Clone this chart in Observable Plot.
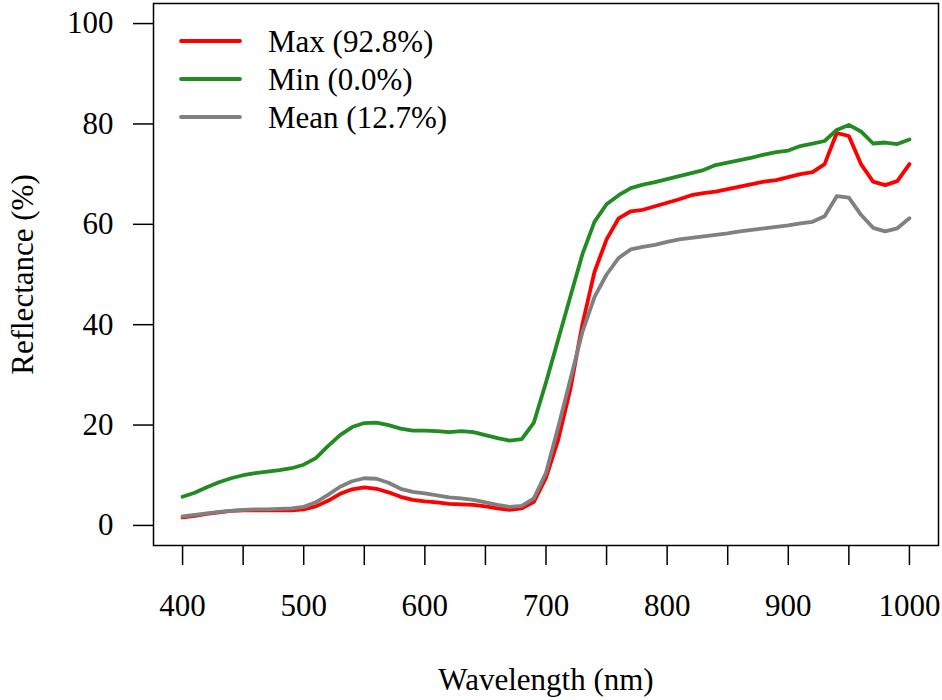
<!DOCTYPE html>
<html>
<head>
<meta charset="utf-8">
<script src="https://cdn.jsdelivr.net/npm/d3@7"></script>
<script src="https://cdn.jsdelivr.net/npm/@observablehq/plot@0.6"></script>
<style>
  html, body { margin: 0; padding: 0; background: white; }
  #chart { position: relative; width: 942px; height: 700px; }
  #legend { position: absolute; left: 0; top: 0; }
</style>
</head>
<body>
<div id="chart"></div>
<script>
const wavelength = [400,410,420,430,440,450,460,470,480,490,
  500,510,520,530,540,550,560,570,580,590,
  600,610,620,630,640,650,660,670,680,690,
  700,710,720,730,740,750,760,770,780,790,
  800,810,820,830,840,850,860,870,880,890,
  900,910,920,930,940,950,960,970,980,990,1000];

const maxRefl = [1.6,1.9,2.3,2.6,2.9,3.0,3.0,3.0,3.0,3.0,
  3.2,3.8,4.9,6.3,7.2,7.6,7.3,6.6,5.7,5.1,
  4.8,4.6,4.3,4.2,4.1,3.8,3.4,3.1,3.4,4.7,
  9.5,17.0,27.0,40.0,50.5,57.0,61.2,62.6,62.9,63.6,
  64.3,65.0,65.8,66.2,66.5,67.0,67.5,68.0,68.5,68.8,
  69.4,70.0,70.4,72.0,78.2,77.6,72.0,68.5,67.8,68.6,72.0];

const minRefl = [5.7,6.5,7.6,8.6,9.4,10.0,10.4,10.7,11.0,11.4,
  12.1,13.4,15.8,18.0,19.6,20.4,20.5,20.0,19.3,18.9,
  18.9,18.8,18.6,18.8,18.6,18.0,17.4,16.9,17.2,20.5,
  28.5,37.0,45.5,54.0,60.5,64.0,65.8,67.2,67.9,68.4,
  69.0,69.6,70.2,70.8,71.8,72.3,72.8,73.3,73.9,74.4,
  74.7,75.6,76.1,76.6,78.8,79.8,78.5,76.1,76.3,76.0,76.9];

const meanRefl = [1.8,2.1,2.4,2.7,2.9,3.1,3.2,3.2,3.3,3.4,
  3.7,4.6,6.1,7.7,8.8,9.4,9.3,8.5,7.3,6.7,
  6.4,6.0,5.6,5.4,5.1,4.6,4.1,3.7,3.9,5.4,
  10.5,19.5,29.0,38.5,45.5,50.0,53.3,55.0,55.5,55.9,
  56.5,57.0,57.3,57.6,57.9,58.2,58.6,58.9,59.2,59.5,
  59.8,60.2,60.5,61.6,65.6,65.3,61.9,59.3,58.6,59.2,61.2];

const seriesNames = ["Max (92.8%)", "Min (0.0%)", "Mean (12.7%)"];
const seriesColors = ["#ff0000", "#228b22", "#808080"];
const seriesValues = [maxRefl, minRefl, meanRefl];

const xTicks = [400,450,500,550,600,650,700,750,800,850,900,950,1000];
const yTicks = [0,20,40,60,80,100];
const xLabel = "Wavelength (nm)";
const yLabel = "Reflectance (%)";

const data = [];
seriesNames.forEach((name, s) => {
  wavelength.forEach((w, i) => data.push({series: name, wavelength: w, value: seriesValues[s][i]}));
});

const font = "'Liberation Serif', 'Times New Roman', serif";
const fs = 31;

const plot = Plot.plot({
  width: 942,
  height: 700,
  marginLeft: 153,
  marginRight: 4,
  marginTop: 3,
  marginBottom: 155,
  style: {fontFamily: font, fontSize: fs + "px", color: "black", background: "white"},
  x: {domain: [376, 1024]},
  y: {domain: [-4, 104]},
  color: {domain: seriesNames, range: seriesColors},
  marks: [
    Plot.axisX({ticks: xTicks, tickSize: 20, tickPadding: 28, strokeWidth: 1.5,
      tickFormat: d => d % 100 === 0 ? String(d) : "", label: null, fontSize: fs}),
    Plot.axisY({ticks: yTicks, tickSize: 20, tickPadding: 20, strokeWidth: 1.5,
      tickFormat: d => String(d), label: null, fontSize: fs}),
    Plot.line(data, {x: "wavelength", y: "value", z: "series", stroke: "series",
      strokeWidth: 3.8, strokeLinejoin: "round", strokeLinecap: "round"}),
    Plot.frame({stroke: "black", strokeWidth: 1.5}),
    Plot.text([xLabel], {frameAnchor: "bottom", dy: 135, fontSize: fs, fill: "black",
      textAnchor: "middle", lineAnchor: "middle"}),
    Plot.text([yLabel], {frameAnchor: "left", dx: -130, rotate: -90, fontSize: fs, fill: "black",
      textAnchor: "middle", lineAnchor: "middle"})
  ]
});

document.getElementById("chart").appendChild(plot);

// Legend overlay (top-left inside the plot box)
const legend = d3.select("#chart").append("svg")
  .attr("id", "legend").attr("width", 942).attr("height", 700)
  .style("pointer-events", "none");
const legendY = [41, 79, 117];
seriesNames.forEach((name, i) => {
  legend.append("line")
    .attr("x1", 181).attr("x2", 240).attr("y1", legendY[i]).attr("y2", legendY[i])
    .attr("stroke", seriesColors[i]).attr("stroke-width", 3.8).attr("stroke-linecap", "round");
  legend.append("text")
    .attr("x", 268).attr("y", legendY[i]).attr("dy", "0.35em")
    .attr("font-family", font).attr("font-size", fs).attr("fill", "black")
    .text(name);
});
</script>
</body>
</html>
